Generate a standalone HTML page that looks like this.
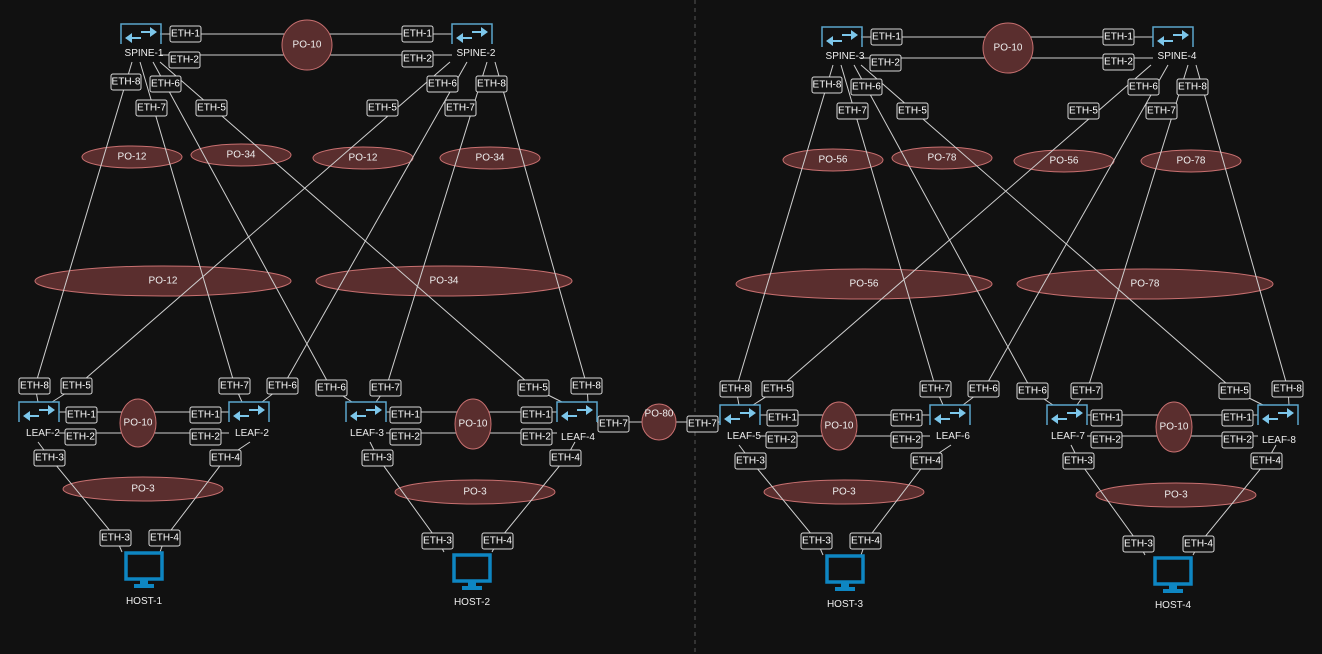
<!DOCTYPE html>
<html><head><meta charset="utf-8"><style>
html,body{margin:0;padding:0;background:#111;}
svg{display:block;font-family:"Liberation Sans",sans-serif;}
.l{stroke:#cfcfcf;stroke-width:1;fill:none}
.b rect{fill:#141414;stroke:#d8d8d8;stroke-width:1}
.b text{fill:#fff;font-size:10px;text-anchor:middle;dominant-baseline:central}
.po{fill:#5a2e2e;stroke:#c87070;stroke-width:1}
.pt{fill:#eee;font-size:10px;text-anchor:middle;dominant-baseline:central}
.nt{fill:#eee;font-size:10px;text-anchor:middle}
.sw{fill:none;stroke:#5aa6cc;stroke-width:1.5}
.ar{fill:#7cc6ea}
.mon{fill:none;stroke:#0e86c2;stroke-width:3.5}
.st{fill:#0e86c2}
</style></head><body>
<svg width="1322" height="654" viewBox="0 0 1322 654" xmlns="http://www.w3.org/2000/svg">
<defs>
<g id="swi">
<path class="sw" d="M0,20 V0 H40 V20"/>
<path class="ar" d="M20,7 h9 v-4 l7,5 l-7,5 v-4 h-9z"/>
<path class="ar" d="M20,13 h-9 v-4 l-7,5 l7,5 v-4 h9z"/>
</g>
<g id="host">
<rect class="mon" x="-18" y="-15" width="36" height="26"/>
<rect class="st" x="-4" y="11" width="8" height="6"/>
<rect class="st" x="-10" y="16" width="20" height="4"/>
</g>
</defs>
<line x1="695" y1="0" x2="695" y2="654" stroke="#555" stroke-dasharray="4,4"/>

<!-- LEFT POD -->
<g>
<ellipse class="po" cx="132" cy="157" rx="50" ry="11"/>
<ellipse class="po" cx="241" cy="155" rx="50" ry="11"/>
<ellipse class="po" cx="363" cy="158" rx="50" ry="11"/>
<ellipse class="po" cx="490" cy="158" rx="50" ry="11"/>
<ellipse class="po" cx="163" cy="281" rx="128" ry="15"/>
<ellipse class="po" cx="444" cy="281" rx="128" ry="15"/>
<ellipse class="po" cx="143" cy="489" rx="80" ry="12"/>
<ellipse class="po" cx="475" cy="492" rx="80" ry="12"/>
<line class="l" x1="160" y1="34" x2="452" y2="34"/>
<line class="l" x1="160" y1="55" x2="452" y2="55"/>
<line class="l" x1="59" y1="412" x2="229" y2="412"/>
<line class="l" x1="59" y1="433" x2="229" y2="433"/>
<line class="l" x1="386" y1="412" x2="557" y2="412"/>
<line class="l" x1="386" y1="433" x2="557" y2="433"/>
<line class="l" x1="597" y1="422" x2="720" y2="422"/>
<circle class="po" cx="307" cy="45" r="25"/>
<ellipse class="po" cx="138" cy="423" rx="18" ry="24"/>
<ellipse class="po" cx="473" cy="424" rx="18" ry="25"/>
<ellipse class="po" cx="659" cy="422" rx="17" ry="18"/>
<line class="l" x1="132" y1="62" x2="35" y2="386"/>
<line class="l" x1="140" y1="62" x2="235" y2="386"/>
<line class="l" x1="153" y1="62" x2="331" y2="388"/>
<line class="l" x1="160" y1="62" x2="534" y2="388"/>
<line class="l" x1="450" y1="62" x2="77" y2="386"/>
<line class="l" x1="467" y1="62" x2="283" y2="386"/>
<line class="l" x1="487" y1="62" x2="386" y2="388"/>
<line class="l" x1="495" y1="62" x2="587" y2="386"/>
<line class="l" x1="35" y1="386" x2="38" y2="402"/>
<line class="l" x1="77" y1="386" x2="52" y2="402"/>
<line class="l" x1="235" y1="386" x2="242" y2="402"/>
<line class="l" x1="283" y1="386" x2="262" y2="402"/>
<line class="l" x1="331" y1="388" x2="352" y2="402"/>
<line class="l" x1="386" y1="388" x2="376" y2="402"/>
<line class="l" x1="534" y1="388" x2="562" y2="402"/>
<line class="l" x1="587" y1="386" x2="588" y2="402"/>
<polyline class="l" points="38,442 50,458 116,538 122,552"/>
<polyline class="l" points="250,442 226,458 165,538 160,552"/>
<polyline class="l" points="370,442 378,458 438,541 444,552"/>
<polyline class="l" points="575,442 566,458 498,541 492,552"/>

<text class="pt" x="307" y="45">PO-10</text>
<text class="pt" x="132" y="157">PO-12</text>
<text class="pt" x="241" y="155">PO-34</text>
<text class="pt" x="363" y="158">PO-12</text>
<text class="pt" x="490" y="158">PO-34</text>
<text class="pt" x="163" y="281">PO-12</text>
<text class="pt" x="444" y="281">PO-34</text>
<text class="pt" x="138" y="423">PO-10</text>
<text class="pt" x="473" y="424">PO-10</text>
<text class="pt" x="143" y="489">PO-3</text>
<text class="pt" x="475" y="492">PO-3</text>
<text class="pt" x="659" y="414">PO-80</text>

<g class="b">
<rect x="170" y="26" width="31" height="16" rx="2"/><text x="185.5" y="34">ETH-1</text>
<rect x="402" y="26" width="31" height="16" rx="2"/><text x="417.5" y="34">ETH-1</text>
<rect x="169" y="52" width="31" height="16" rx="2"/><text x="184.5" y="60">ETH-2</text>
<rect x="402" y="51" width="31" height="16" rx="2"/><text x="417.5" y="59">ETH-2</text>
<rect x="111" y="74" width="30" height="16" rx="2"/><text x="126" y="82">ETH-8</text>
<rect x="150" y="76" width="31" height="16" rx="2"/><text x="165.5" y="84">ETH-6</text>
<rect x="136" y="100" width="31" height="16" rx="2"/><text x="151.5" y="108">ETH-7</text>
<rect x="196" y="100" width="31" height="16" rx="2"/><text x="211.5" y="108">ETH-5</text>
<rect x="427" y="76" width="31" height="16" rx="2"/><text x="442.5" y="84">ETH-6</text>
<rect x="476" y="76" width="31" height="16" rx="2"/><text x="491.5" y="84">ETH-8</text>
<rect x="445" y="100" width="31" height="16" rx="2"/><text x="460.5" y="108">ETH-7</text>
<rect x="367" y="100" width="31" height="16" rx="2"/><text x="382.5" y="108">ETH-5</text>
<rect x="19" y="378" width="31" height="16" rx="2"/><text x="34.5" y="386">ETH-8</text>
<rect x="61" y="378" width="31" height="16" rx="2"/><text x="76.5" y="386">ETH-5</text>
<rect x="219" y="378" width="31" height="16" rx="2"/><text x="234.5" y="386">ETH-7</text>
<rect x="267" y="378" width="31" height="16" rx="2"/><text x="282.5" y="386">ETH-6</text>
<rect x="316" y="380" width="31" height="16" rx="2"/><text x="331.5" y="388">ETH-6</text>
<rect x="370" y="380" width="31" height="16" rx="2"/><text x="385.5" y="388">ETH-7</text>
<rect x="518" y="380" width="31" height="16" rx="2"/><text x="533.5" y="388">ETH-5</text>
<rect x="571" y="378" width="31" height="16" rx="2"/><text x="586.5" y="386">ETH-8</text>
<rect x="66" y="407" width="31" height="16" rx="2"/><text x="81.5" y="415">ETH-1</text>
<rect x="65" y="429" width="31" height="16" rx="2"/><text x="80.5" y="437">ETH-2</text>
<rect x="190" y="407" width="31" height="16" rx="2"/><text x="205.5" y="415">ETH-1</text>
<rect x="190" y="429" width="31" height="16" rx="2"/><text x="205.5" y="437">ETH-2</text>
<rect x="390" y="407" width="31" height="16" rx="2"/><text x="405.5" y="415">ETH-1</text>
<rect x="390" y="429" width="31" height="16" rx="2"/><text x="405.5" y="437">ETH-2</text>
<rect x="521" y="407" width="31" height="16" rx="2"/><text x="536.5" y="415">ETH-1</text>
<rect x="521" y="429" width="31" height="16" rx="2"/><text x="536.5" y="437">ETH-2</text>
<rect x="598" y="416" width="31" height="16" rx="2"/><text x="613.5" y="424">ETH-7</text>
<rect x="687" y="416" width="31" height="16" rx="2"/><text x="702.5" y="424">ETH-7</text>
<rect x="34" y="450" width="31" height="16" rx="2"/><text x="49.5" y="458">ETH-3</text>
<rect x="210" y="450" width="31" height="16" rx="2"/><text x="225.5" y="458">ETH-4</text>
<rect x="362" y="450" width="31" height="16" rx="2"/><text x="377.5" y="458">ETH-3</text>
<rect x="550" y="450" width="31" height="16" rx="2"/><text x="565.5" y="458">ETH-4</text>
<rect x="100" y="530" width="31" height="16" rx="2"/><text x="115.5" y="538">ETH-3</text>
<rect x="149" y="530" width="31" height="16" rx="2"/><text x="164.5" y="538">ETH-4</text>
<rect x="422" y="533" width="31" height="16" rx="2"/><text x="437.5" y="541">ETH-3</text>
<rect x="482" y="533" width="31" height="16" rx="2"/><text x="497.5" y="541">ETH-4</text>
</g>
<use href="#swi" x="121" y="24"/><text class="nt" x="144" y="56">SPINE-1</text>
<use href="#swi" x="452" y="24"/><text class="nt" x="476" y="56">SPINE-2</text>
<use href="#swi" x="19" y="402"/><text class="nt" x="43" y="436">LEAF-2</text>
<use href="#swi" x="229" y="402"/><text class="nt" x="252" y="436">LEAF-2</text>
<use href="#swi" x="346" y="402"/><text class="nt" x="367" y="436">LEAF-3</text>
<use href="#swi" x="557" y="402"/><text class="nt" x="578" y="440">LEAF-4</text>
<use href="#host" x="144" y="568"/><text class="nt" x="144" y="604">HOST-1</text>
<use href="#host" x="472" y="570"/><text class="nt" x="472" y="605">HOST-2</text>
</g>

<!-- RIGHT POD -->
<g transform="translate(701,3)">
<ellipse class="po" cx="132" cy="157" rx="50" ry="11"/>
<ellipse class="po" cx="241" cy="155" rx="50" ry="11"/>
<ellipse class="po" cx="363" cy="158" rx="50" ry="11"/>
<ellipse class="po" cx="490" cy="158" rx="50" ry="11"/>
<ellipse class="po" cx="163" cy="281" rx="128" ry="15"/>
<ellipse class="po" cx="444" cy="281" rx="128" ry="15"/>
<ellipse class="po" cx="143" cy="489" rx="80" ry="12"/>
<ellipse class="po" cx="475" cy="492" rx="80" ry="12"/>
<line class="l" x1="160" y1="34" x2="452" y2="34"/>
<line class="l" x1="160" y1="55" x2="452" y2="55"/>
<line class="l" x1="59" y1="412" x2="229" y2="412"/>
<line class="l" x1="59" y1="433" x2="229" y2="433"/>
<line class="l" x1="386" y1="412" x2="557" y2="412"/>
<line class="l" x1="386" y1="433" x2="557" y2="433"/>
<circle class="po" cx="307" cy="45" r="25"/>
<ellipse class="po" cx="138" cy="423" rx="18" ry="24"/>
<ellipse class="po" cx="473" cy="424" rx="18" ry="25"/>
<line class="l" x1="132" y1="62" x2="35" y2="386"/>
<line class="l" x1="140" y1="62" x2="235" y2="386"/>
<line class="l" x1="153" y1="62" x2="331" y2="388"/>
<line class="l" x1="160" y1="62" x2="534" y2="388"/>
<line class="l" x1="450" y1="62" x2="77" y2="386"/>
<line class="l" x1="467" y1="62" x2="283" y2="386"/>
<line class="l" x1="487" y1="62" x2="386" y2="388"/>
<line class="l" x1="495" y1="62" x2="587" y2="386"/>
<line class="l" x1="35" y1="386" x2="38" y2="402"/>
<line class="l" x1="77" y1="386" x2="52" y2="402"/>
<line class="l" x1="235" y1="386" x2="242" y2="402"/>
<line class="l" x1="283" y1="386" x2="262" y2="402"/>
<line class="l" x1="331" y1="388" x2="352" y2="402"/>
<line class="l" x1="386" y1="388" x2="376" y2="402"/>
<line class="l" x1="534" y1="388" x2="562" y2="402"/>
<line class="l" x1="587" y1="386" x2="588" y2="402"/>
<polyline class="l" points="38,442 50,458 116,538 122,552"/>
<polyline class="l" points="250,442 226,458 165,538 160,552"/>
<polyline class="l" points="370,442 378,458 438,541 444,552"/>
<polyline class="l" points="575,442 566,458 498,541 492,552"/>

<text class="pt" x="307" y="45">PO-10</text>
<text class="pt" x="132" y="157">PO-56</text>
<text class="pt" x="241" y="155">PO-78</text>
<text class="pt" x="363" y="158">PO-56</text>
<text class="pt" x="490" y="158">PO-78</text>
<text class="pt" x="163" y="281">PO-56</text>
<text class="pt" x="444" y="281">PO-78</text>
<text class="pt" x="138" y="423">PO-10</text>
<text class="pt" x="473" y="424">PO-10</text>
<text class="pt" x="143" y="489">PO-3</text>
<text class="pt" x="475" y="492">PO-3</text>

<g class="b">
<rect x="170" y="26" width="31" height="16" rx="2"/><text x="185.5" y="34">ETH-1</text>
<rect x="402" y="26" width="31" height="16" rx="2"/><text x="417.5" y="34">ETH-1</text>
<rect x="169" y="52" width="31" height="16" rx="2"/><text x="184.5" y="60">ETH-2</text>
<rect x="402" y="51" width="31" height="16" rx="2"/><text x="417.5" y="59">ETH-2</text>
<rect x="111" y="74" width="30" height="16" rx="2"/><text x="126" y="82">ETH-8</text>
<rect x="150" y="76" width="31" height="16" rx="2"/><text x="165.5" y="84">ETH-6</text>
<rect x="136" y="100" width="31" height="16" rx="2"/><text x="151.5" y="108">ETH-7</text>
<rect x="196" y="100" width="31" height="16" rx="2"/><text x="211.5" y="108">ETH-5</text>
<rect x="427" y="76" width="31" height="16" rx="2"/><text x="442.5" y="84">ETH-6</text>
<rect x="476" y="76" width="31" height="16" rx="2"/><text x="491.5" y="84">ETH-8</text>
<rect x="445" y="100" width="31" height="16" rx="2"/><text x="460.5" y="108">ETH-7</text>
<rect x="367" y="100" width="31" height="16" rx="2"/><text x="382.5" y="108">ETH-5</text>
<rect x="19" y="378" width="31" height="16" rx="2"/><text x="34.5" y="386">ETH-8</text>
<rect x="61" y="378" width="31" height="16" rx="2"/><text x="76.5" y="386">ETH-5</text>
<rect x="219" y="378" width="31" height="16" rx="2"/><text x="234.5" y="386">ETH-7</text>
<rect x="267" y="378" width="31" height="16" rx="2"/><text x="282.5" y="386">ETH-6</text>
<rect x="316" y="380" width="31" height="16" rx="2"/><text x="331.5" y="388">ETH-6</text>
<rect x="370" y="380" width="31" height="16" rx="2"/><text x="385.5" y="388">ETH-7</text>
<rect x="518" y="380" width="31" height="16" rx="2"/><text x="533.5" y="388">ETH-5</text>
<rect x="571" y="378" width="31" height="16" rx="2"/><text x="586.5" y="386">ETH-8</text>
<rect x="66" y="407" width="31" height="16" rx="2"/><text x="81.5" y="415">ETH-1</text>
<rect x="65" y="429" width="31" height="16" rx="2"/><text x="80.5" y="437">ETH-2</text>
<rect x="190" y="407" width="31" height="16" rx="2"/><text x="205.5" y="415">ETH-1</text>
<rect x="190" y="429" width="31" height="16" rx="2"/><text x="205.5" y="437">ETH-2</text>
<rect x="390" y="407" width="31" height="16" rx="2"/><text x="405.5" y="415">ETH-1</text>
<rect x="390" y="429" width="31" height="16" rx="2"/><text x="405.5" y="437">ETH-2</text>
<rect x="521" y="407" width="31" height="16" rx="2"/><text x="536.5" y="415">ETH-1</text>
<rect x="521" y="429" width="31" height="16" rx="2"/><text x="536.5" y="437">ETH-2</text>
<rect x="34" y="450" width="31" height="16" rx="2"/><text x="49.5" y="458">ETH-3</text>
<rect x="210" y="450" width="31" height="16" rx="2"/><text x="225.5" y="458">ETH-4</text>
<rect x="362" y="450" width="31" height="16" rx="2"/><text x="377.5" y="458">ETH-3</text>
<rect x="550" y="450" width="31" height="16" rx="2"/><text x="565.5" y="458">ETH-4</text>
<rect x="100" y="530" width="31" height="16" rx="2"/><text x="115.5" y="538">ETH-3</text>
<rect x="149" y="530" width="31" height="16" rx="2"/><text x="164.5" y="538">ETH-4</text>
<rect x="422" y="533" width="31" height="16" rx="2"/><text x="437.5" y="541">ETH-3</text>
<rect x="482" y="533" width="31" height="16" rx="2"/><text x="497.5" y="541">ETH-4</text>
</g>
<use href="#swi" x="121" y="24"/><text class="nt" x="144" y="56">SPINE-3</text>
<use href="#swi" x="452" y="24"/><text class="nt" x="476" y="56">SPINE-4</text>
<use href="#swi" x="19" y="402"/><text class="nt" x="43" y="436">LEAF-5</text>
<use href="#swi" x="229" y="402"/><text class="nt" x="252" y="436">LEAF-6</text>
<use href="#swi" x="346" y="402"/><text class="nt" x="367" y="436">LEAF-7</text>
<use href="#swi" x="557" y="402"/><text class="nt" x="578" y="440">LEAF-8</text>
<use href="#host" x="144" y="568"/><text class="nt" x="144" y="604">HOST-3</text>
<use href="#host" x="472" y="570"/><text class="nt" x="472" y="605">HOST-4</text>
</g>
</svg>
</body></html>
